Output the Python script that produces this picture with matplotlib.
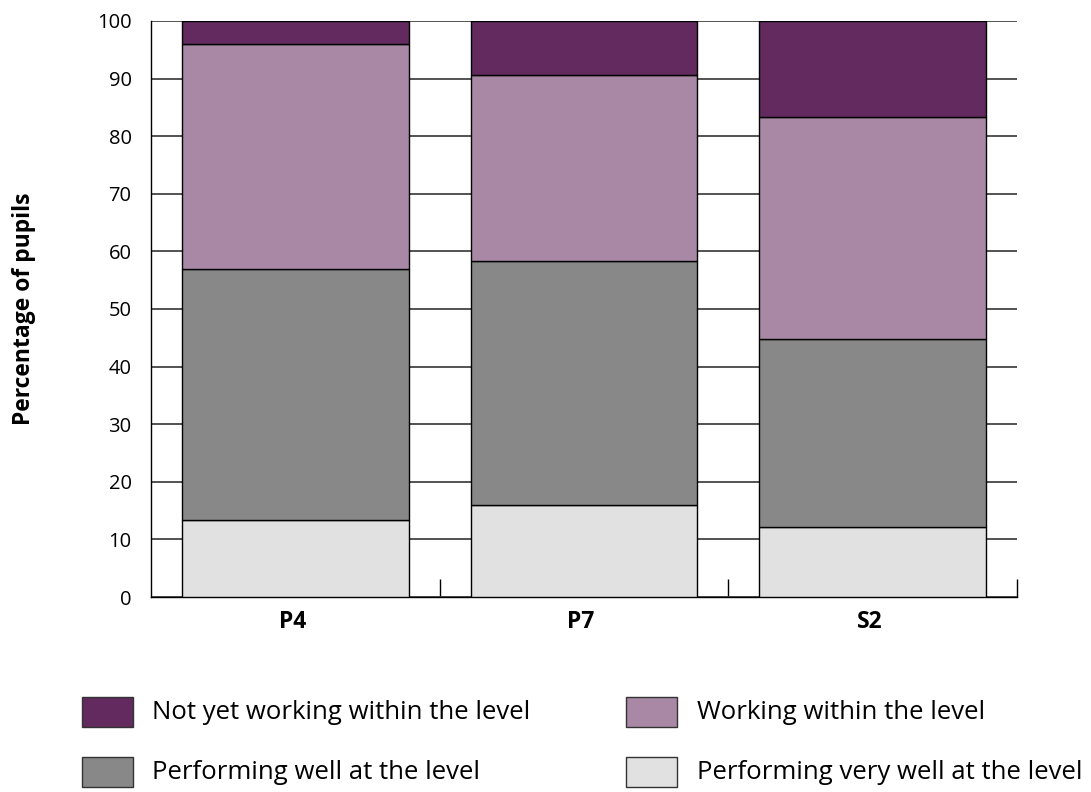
import matplotlib
matplotlib.use("Agg")
import matplotlib.pyplot as plt
from matplotlib.patches import Rectangle
import numpy as np

plt.rcParams['font.family'] = ['Open Sans', 'DejaVu Sans']

categories = ["P4", "P7", "S2"]
very_well = [13.3, 16.0, 12.2]
well = [43.6, 42.3, 32.6]
working = [39.1, 32.3, 38.5]
not_yet = [4.0, 9.4, 16.7]

series_names = ["Not yet working within the level", "Working within the level",
                "Performing well at the level", "Performing very well at the level"]
colors = {"not_yet": "#622A5E", "working": "#A888A5", "well": "#888888", "very_well": "#E1E1E1"}

fig = plt.figure(figsize=(10.91, 7.92), dpi=100)
ax = fig.add_axes([0.1384, 0.2462, 0.7938, 0.7273])

x = np.arange(len(categories))
w = 0.786
bottom = np.zeros(len(categories))
for vals, key in [(very_well, "very_well"), (well, "well"), (working, "working"), (not_yet, "not_yet")]:
    ax.bar(x, vals, w, bottom=bottom, color=colors[key], edgecolor="black", linewidth=1.0, zorder=3)
    bottom += np.array(vals)

ax.set_xlim(-0.5, len(categories) - 0.5)
ax.set_ylim(0, 100)
ax.set_yticks(np.arange(0, 101, 10))
ax.yaxis.grid(True, color="#444444", linewidth=1.3, zorder=0)
ax.set_axisbelow(True)
ax.tick_params(axis="y", length=0, labelsize=14.5, pad=14)
ax.set_xticks(x - 0.01)
ax.set_xticklabels(categories, fontsize=16.5, fontweight="bold")
ax.tick_params(axis="x", length=0, pad=9)
# category boundary ticks
ax.set_xticks(np.arange(0.5, len(categories), 1.0), minor=True)
ax.tick_params(axis="x", which="minor", direction="in", length=13, width=1.0, color="black")

for s in ["top", "right"]:
    ax.spines[s].set_visible(False)
ax.spines["left"].set_color("black")
ax.spines["bottom"].set_color("black")
ax.spines["left"].set_linewidth(1.0)
ax.spines["bottom"].set_linewidth(1.0)

ax.set_ylabel("Percentage of pupils", fontsize=16.5, fontweight="bold", labelpad=44)

# legend
legend_items = [
    (series_names[0], colors["not_yet"], 0.0752, 0.0821, 0.1393, 0.101),
    (series_names[1], colors["working"], 0.5738, 0.0821, 0.6389, 0.101),
    (series_names[2], colors["well"], 0.0752, 0.0063, 0.1393, 0.0246),
    (series_names[3], colors["very_well"], 0.5738, 0.0063, 0.6389, 0.0246),
]
for name, c, rx, ry, tx, ty in legend_items:
    fig.add_artist(Rectangle((rx, ry), 0.0467, 0.0379, transform=fig.transFigure,
                             facecolor=c, edgecolor="#333333", linewidth=1.0))
    fig.text(tx, ty, name, fontsize=18.5, va="center", ha="left")

fig.savefig("out.png", dpi=100)
